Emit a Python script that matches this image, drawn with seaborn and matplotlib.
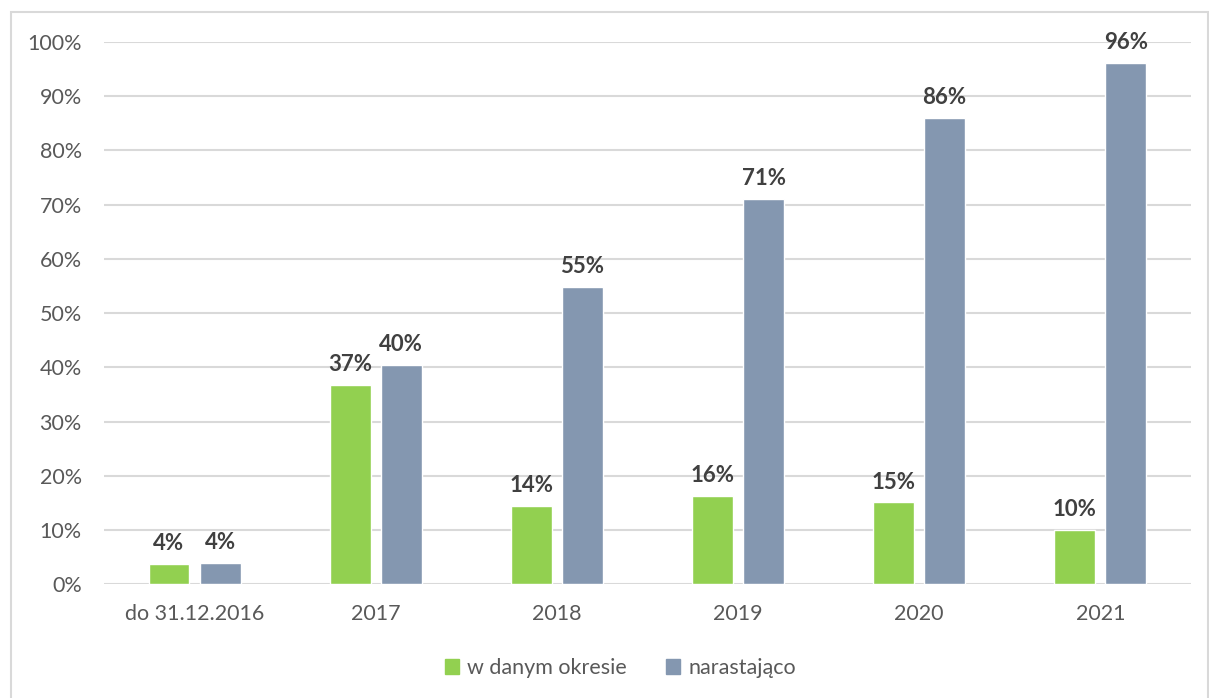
import matplotlib
matplotlib.use("Agg")
import matplotlib.pyplot as plt
from matplotlib.patches import Rectangle
from matplotlib.ticker import PercentFormatter
import pandas as pd
import seaborn as sns

categories = ["do 31.12.2016", "2017", "2018", "2019", "2020", "2021"]
w_danym_okresie = [3.8, 36.7, 14.5, 16.3, 15.1, 10.0]
narastajaco = [3.9, 40.4, 54.8, 71.0, 86.0, 96.1]
series_names = ["w danym okresie", "narastająco"]

df = pd.DataFrame({
    "kategoria": categories * 2,
    "seria": [series_names[0]] * len(categories) + [series_names[1]] * len(categories),
    "wartosc": w_danym_okresie + narastajaco,
})

sns.set_theme(style="white")
plt.rcParams["font.family"] = ["Lato", "DejaVu Sans"]

color_green = "#92D050"
color_blue = "#8497B0"
grid_color = "#D9D9D9"
text_color = "#595959"

fig = plt.figure(figsize=(12.09, 6.98), dpi=100)
ax = fig.add_axes([0.086, 0.163, 0.899, 0.777])

sns.barplot(
    data=df, x="kategoria", y="wartosc", hue="seria",
    palette=[color_green, color_blue], width=0.564, gap=0.2,
    saturation=1, ax=ax, legend=False,
)

ax.set_ylim(0, 100)
ax.set_xlim(-0.5, len(categories) - 0.5)
ax.set_yticks(range(0, 101, 10))
ax.yaxis.set_major_formatter(PercentFormatter(decimals=0))
ax.grid(axis="y", color=grid_color, linewidth=1.5)
ax.set_axisbelow(True)
for s in ax.spines.values():
    s.set_visible(False)
ax.set_xlabel("")
ax.set_ylabel("")
ax.tick_params(axis="both", length=0, labelsize=15.5, colors=text_color)
ax.tick_params(axis="y", pad=16)
ax.tick_params(axis="x", pad=14)

for cont in ax.containers:
    ax.bar_label(cont, labels=[f"{v:.0f}%" for v in cont.datavalues],
                 padding=7, fontsize=16, fontweight="bold", color="#404040")

handles = [Rectangle((0, 0), 1, 1, color=c) for c in (color_green, color_blue)]
fig.legend(handles, series_names, loc="center", bbox_to_anchor=(0.513, 0.043),
           ncol=2, frameon=False, fontsize=15.5, labelcolor=text_color,
           handlelength=0.65, handleheight=0.65, handletextpad=0.4,
           columnspacing=1.8)

fig.patches.append(Rectangle((0.009, -0.01), 0.99, 0.993, transform=fig.transFigure,
                             fill=False, edgecolor=grid_color, linewidth=1.5))

fig.savefig("out.png", dpi=100)
